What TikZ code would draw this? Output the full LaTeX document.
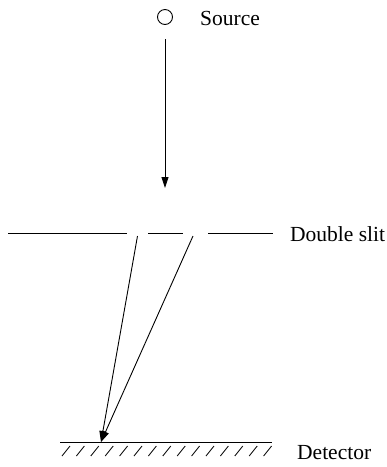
\documentclass[tikz,border=0pt]{standalone}
\usepackage{fontspec}
\setmainfont{Liberation Serif}
\usetikzlibrary{arrows.meta}
\begin{document}
\begin{tikzpicture}[x=1pt,y=-1pt,
  lbl/.style={anchor=base west,inner sep=0pt,font=\fontsize{21.5}{25}\selectfont},
  ln/.style={line width=0.9pt},
  arr/.style={ln,-{Triangle[length=11pt,width=7pt]}},
  hatch/.style={line width=0.8pt}]
\useasboundingbox (0,0) rectangle (387,467);
% source
\node[draw,ln,circle,minimum size=15pt,inner sep=0pt] (src) at (165,17) {};
\node[lbl] (srclbl) at (200,25) {Source};
\coordinate (a0) at (165,39);
\coordinate (a1) at (165,188);
\draw[arr] (a0) -- (a1);
% double slit
\coordinate (l0) at (8,233);
\coordinate (l1) at (127,233);
\coordinate (m0) at (148,233);
\coordinate (m1) at (183,233);
\coordinate (r0) at (208,233);
\coordinate (r1) at (273,233);
\draw[ln] (l0) -- (l1);
\draw[ln] (m0) -- (m1);
\draw[ln] (r0) -- (r1);
\node[lbl] (slitlbl) at (290,241) {Double slit};
% rays
\coordinate (s1) at (137.5,236);
\coordinate (s2) at (193,236);
\coordinate (hit) at (101,442);
\draw[arr] (s1) -- (hit);
\draw[arr] (s2) -- (hit);
% detector
\coordinate (d0) at (60,442);
\coordinate (d1) at (272,442);
\draw[ln] (d0) -- (d1);
\begin{scope}
\clip (58,443) rectangle (272,460);
\foreach \k in {0,...,14}{
  \draw[hatch] ({62+14.4*\k},456) -- ({70+14.4*\k},446);
}
\end{scope}
\node[lbl] (detlbl) at (297,459) {Detector};
\end{tikzpicture}
\end{document}
